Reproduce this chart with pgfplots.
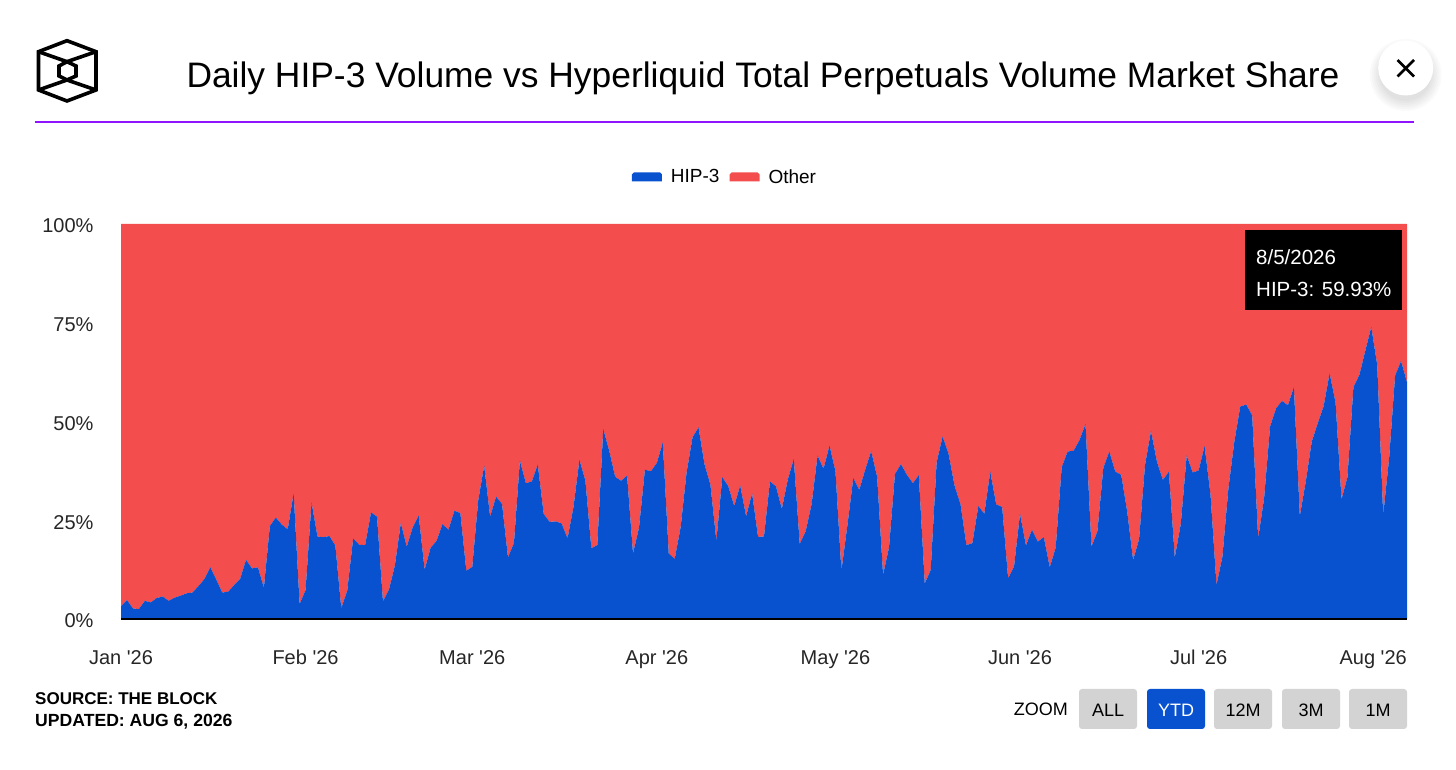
\documentclass[border=0pt]{standalone}
\usepackage{fontspec}
\setmainfont{Liberation Sans}[Ligatures=TeXOff]
\usepackage{pgfplots}
\usepackage{pgfplotstable}
\pgfplotsset{compat=1.18}

\definecolor{hipblue}{HTML}{0952CF}
\definecolor{otherred}{HTML}{F34D4D}
\definecolor{rulepurple}{HTML}{9013FE}
\definecolor{btngray}{HTML}{D3D3D3}

% day 0 = Jan 1 2026, shares in percent
\pgfplotstableread{
day hip other
0 3.2 96.8
1 4.8 95.2
2 2.7 97.3
3 2.5 97.5
4 4.6 95.4
5 4.2 95.8
6 5.3 94.7
7 5.7 94.3
8 4.6 95.4
9 5.4 94.6
10 5.9 94.1
11 6.5 93.5
12 6.7 93.3
13 8.3 91.7
14 10.1 89.9
15 13.1 86.9
16 10 90
17 6.7 93.3
18 6.9 93.1
19 8.6 91.4
20 10.1 89.9
21 15 85
22 12.8 87.2
23 13.1 86.9
24 7.9 92.1
25 23.5 76.5
26 25.7 74.3
27 23.9 76.1
28 22.7 77.3
29 31.8 68.2
30 3.8 96.2
31 7.3 92.7
32 29.5 70.5
33 20.9 79.1
34 20.7 79.3
35 21 79
36 18.6 81.4
37 2.7 97.3
38 7.2 92.8
39 20.4 79.6
40 18.8 81.2
41 18.7 81.3
42 27 73
43 25.9 74.1
44 4.5 95.5
45 7.4 92.6
46 13.5 86.5
47 24.3 75.7
48 18.3 81.7
49 23.2 76.8
50 26.2 73.8
51 12.5 87.5
52 18 82
53 19.8 80.2
54 24 76
55 22.6 77.4
56 27.4 72.6
57 26.8 73.2
58 12.2 87.8
59 13.2 86.8
60 30 70
61 38.8 61.2
62 25.9 74.1
63 31 69
64 29.1 70.9
65 15.6 84.4
66 19.2 80.8
67 40.1 59.9
68 34.4 65.6
69 34.8 65.2
70 39.1 60.9
71 26.6 73.4
72 24.6 75.4
73 24.7 75.3
74 24.2 75.8
75 20.4 79.6
76 28.3 71.7
77 40.3 59.7
78 35 65
79 17.9 82.1
80 18.7 81.3
81 48.1 51.9
82 42.6 57.4
83 36 64
84 35 65
85 36.3 63.7
86 16.6 83.4
87 23 77
88 37.8 62.2
89 37.4 62.6
90 39.5 60.5
91 44.7 55.3
92 16.6 83.4
93 15.2 84.8
94 23.2 76.8
95 37.1 62.9
96 46 54
97 48.5 51.5
98 39.2 60.8
99 34 66
100 19.8 80.2
101 35.9 64.1
102 33.6 66.4
103 28.6 71.4
104 33.8 66.2
105 26 74
106 31.8 68.2
107 20.8 79.2
108 20.9 79.1
109 34.8 65.2
110 33.6 66.4
111 27.9 72.1
112 35.3 64.7
113 40.5 59.5
114 19 81
115 22.2 77.8
116 29.1 70.9
117 41.4 58.6
118 38 62
119 43.9 56.1
120 37.4 62.6
121 12.2 87.8
122 23.6 76.4
123 35.7 64.3
124 32.7 67.3
125 37.8 62.2
126 42.5 57.5
127 36 64
128 11.2 88.8
129 18.1 81.9
130 36.7 63.3
131 39.2 60.8
132 36.5 63.5
133 34.4 65.6
134 36.4 63.6
135 9 91
136 12.4 87.6
137 39.7 60.3
138 46.2 53.8
139 41.8 58.2
140 33.8 66.2
141 29.1 70.9
142 18.7 81.3
143 19.2 80.8
144 28.6 71.4
145 26.6 73.4
146 37.3 62.7
147 29 71
148 28.4 71.6
149 10.3 89.7
150 13.3 86.7
151 26.6 73.4
152 18.6 81.4
153 22.6 77.4
154 19.6 80.4
155 20.7 79.3
156 13.1 86.9
157 18.1 81.9
158 38.4 61.6
159 42.4 57.6
160 42.6 57.4
161 45.3 54.7
162 49.4 50.6
163 18.3 81.7
164 22.2 77.8
165 38.3 61.7
166 42.4 57.6
167 37.3 62.7
168 36.5 63.5
169 27.2 72.8
170 14.9 85.1
171 20.2 79.8
172 39 61
173 47.6 52.4
174 39.8 60.2
175 35.2 64.8
176 37.3 62.7
177 15.6 84.4
178 24 76
179 41.4 58.6
180 37.1 62.9
181 37.6 62.4
182 43.8 56.2
183 31.4 68.6
184 8.6 91.4
185 15.8 84.2
186 33 67
187 44.9 55.1
188 53.8 46.2
189 54.3 45.7
190 51.5 48.5
191 20.4 79.6
192 30.6 69.4
193 48.7 51.3
194 53.3 46.7
195 55.2 44.8
196 54.1 45.9
197 58.7 41.3
198 26.1 73.9
199 34.8 65.2
200 44.9 55.1
201 49.5 50.5
202 53.9 46.1
203 62.2 37.8
204 54.8 45.2
205 30.3 69.7
206 35.9 64.1
207 58.7 41.3
208 61.8 38.2
209 67.9 32.1
210 73.9 26.1
211 64.3 35.7
212 26.3 73.7
213 40.7 59.3
214 61.6 38.4
215 65.3 34.7
216 59.93 40.07
}\sharetable

\newcommand{\fs}[1]{\fontsize{#1}{#1}\selectfont}

\begin{document}
\begin{tikzpicture}[x=1pt,y=1pt]
\path[use as bounding box,fill=white] (0,0) rectangle (1456,770);

% header
\begin{scope}[line width=3.6pt,line join=miter,black]
\draw (67,729.3) -- (96,718.3) -- (96,680) -- (67,669) -- (38.5,680) -- (38.5,718.3) -- cycle;
\draw (38.5,718.3) -- (67,708.3) -- (96,718.3);
\draw (38.5,680) -- (67,690) -- (96,680);
\draw (67,708.3) -- (76,704) -- (76,694) -- (67,690) -- (59,694) -- (59,704) -- cycle;
\end{scope}
\node[anchor=center,inner sep=0pt] at (763,692) {\fs{35.4}Daily HIP-3 Volume vs Hyperliquid Total Perpetuals Volume Market Share};
\draw[rulepurple,line width=1.6pt] (35,648) -- (1414,648);

\begin{axis}[
    at={(121pt,151pt)},
    anchor=south west,
    scale only axis,
    width=1286pt,
    height=395pt,
    xmin=0, xmax=216,
    ymin=0, ymax=100,
    stack plots=y,
    axis x line=bottom,
    axis y line=left,
    x axis line style={black,line width=1.4pt,-},
    y axis line style={draw=none},
    axis on top,
    major tick length=0pt,
    xtick={0,31,59,90,120,151,181,212},
    xticklabels={Jan '26,Feb '26,Mar '26,Apr '26,May '26,Jun '26,Jul '26,Aug '26\hspace{20pt}\null},
    ytick={0,25,50,75,100},
    yticklabels={0\%,25\%,50\%,75\%,100\%},
    tick label style={font=\fs{20},text=black!85},
    xticklabel style={yshift=-27pt,text height=15pt,text depth=5pt},
    yticklabel style={xshift=-24pt,yshift=-2pt},
    legend style={at={(0.4697,1.119)},anchor=center,draw=none,fill=none,legend columns=-1,font=\fs{19},
        /tikz/every even column/.append style={column sep=8pt}},
    legend image code/.code={\fill[#1,draw=none] (0pt,-4.5pt) -- (30pt,-4.5pt) -- (30pt,2.5pt) -- (28pt,4.5pt) -- (2pt,4.5pt) -- (0pt,2.5pt) -- cycle;},
]
\addplot[fill=hipblue,draw=none] table[x=day,y=hip] {\sharetable} \closedcycle;
\addlegendentry{\hspace{7pt}HIP-3}
\addplot[fill=otherred,draw=none] table[x=day,y=other] {\sharetable} \closedcycle;
\addlegendentry{\hspace{7pt}Other}
\end{axis}

% tooltip
\fill[black] (1245,460) rectangle (1402,540);
\node[anchor=west,text=white,inner sep=0pt] at (1256,513) {\fs{20.5}8/5/2026};
\node[anchor=west,text=white,inner sep=0pt] at (1256,481) {\fs{20.5}HIP-3: 59.93\%};

% close button
\foreach \r in {36,34,...,26}
  \fill[black,opacity=0.02] (1405.7,695) circle (\r);
\fill[white] (1405.7,702) circle (27.5);
\draw[black,line width=2.6pt] (1397.5,693.5) -- (1414,710);
\draw[black,line width=2.6pt] (1397.5,710) -- (1414,693.5);

% footer
\node[anchor=west,inner sep=0pt] at (35,71) {\fs{17}\bfseries SOURCE: THE BLOCK};
\node[anchor=west,inner sep=0pt] at (35,48) {\fs{17.6}\bfseries UPDATED: AUG 6, 2026};
\node[anchor=east,inner sep=0pt] at (1068,61) {\fs{18}ZOOM};
\fill[btngray,rounded corners=3pt] (1079,41) rectangle (1137,81);
\fill[hipblue,rounded corners=3pt] (1147,41) rectangle (1205,81);
\fill[btngray,rounded corners=3pt] (1214,41) rectangle (1272,81);
\fill[btngray,rounded corners=3pt] (1282,41) rectangle (1340,81);
\fill[btngray,rounded corners=3pt] (1349,41) rectangle (1407,81);
\node[inner sep=0pt] at (1108,60) {\fs{18}ALL};
\node[inner sep=0pt,text=white] at (1176,60) {\fs{18}YTD};
\node[inner sep=0pt] at (1243,60) {\fs{18}12M};
\node[inner sep=0pt] at (1311,60) {\fs{18}3M};
\node[inner sep=0pt] at (1378,60) {\fs{18}1M};
\end{tikzpicture}
\end{document}
